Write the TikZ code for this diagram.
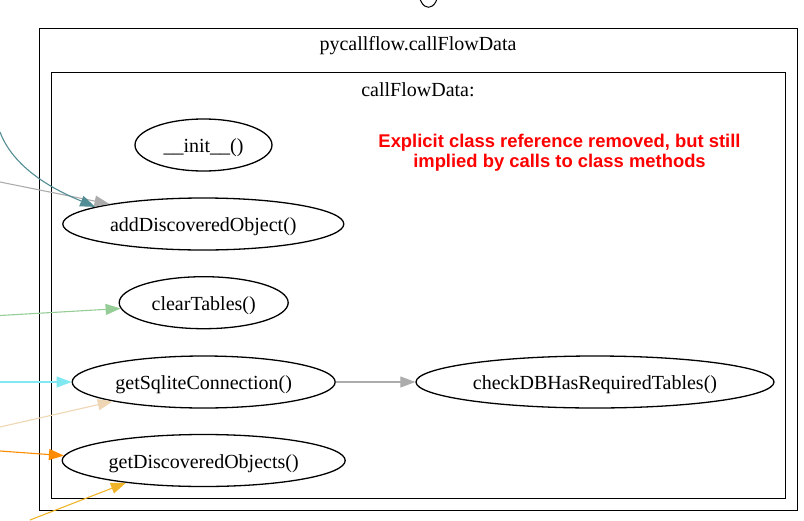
\documentclass[tikz,border=0pt]{standalone}
\usepackage{fontspec}
\setmainfont{Liberation Serif}
\setsansfont{Liberation Sans}
\usetikzlibrary{arrows.meta,shapes.geometric}
\definecolor{tealc}{RGB}{82,140,148}
\definecolor{grayc}{RGB}{172,172,172}
\definecolor{greenc}{RGB}{150,204,150}
\definecolor{cyanc}{RGB}{128,232,240}
\definecolor{tanc}{RGB}{238,214,180}
\definecolor{orangec}{RGB}{255,140,0}
\definecolor{goldc}{RGB}{240,180,40}
\definecolor{redc}{RGB}{255,0,0}
\begin{document}
\begin{tikzpicture}[x=1pt,y=-1pt,
  fn/.style={ellipse, draw, line width=1.3pt, minimum height=52pt, inner sep=0pt, text height=15.4pt, text depth=0pt, font=\fontsize{20}{24}\selectfont},
  cluster/.style={draw, line width=1.3pt, inner sep=0pt, anchor=north west},
  ctitle/.style={font=\fontsize{20}{24}\selectfont, inner sep=0pt},
  conn/.style={line width=1.1pt, -{Triangle[length=15pt,width=11pt]}},
  note/.style={font=\sffamily\bfseries\fontsize{18.4}{20}\selectfont, text=redc, align=center, inner sep=0pt}]
\useasboundingbox (0,0) rectangle (804,520);
\clip (0,0) rectangle (804,520);
% partial node at top
\node[draw, ellipse, line width=1pt, minimum width=20pt, minimum height=34.6pt, inner sep=0pt] (topn) at (428.5,-10) {};
% clusters
\node[cluster, minimum width=758pt, minimum height=482pt] (outer) at (39,28) {};
\node[cluster, minimum width=734pt, minimum height=426pt] (inner) at (51,72) {};
\node[ctitle] (outerT) at (418,46) {pycallflow.callFlowData};
\node[ctitle] (innerT) at (418,90) {callFlowData:};
% functions
\node[fn, minimum width=137pt] (init) at (203.5,145) {\_\_init\_\_()};
\node[fn, minimum width=281pt] (addD) at (203.3,224) {addDiscoveredObject()};
\node[fn, minimum width=169pt] (clearT) at (203.7,302.7) {clearTables()};
\node[fn, minimum width=263pt] (getS) at (203.7,382) {getSqliteConnection()};
\node[fn, minimum width=283pt] (getD) at (203.7,460.5) {getDiscoveredObjects()};
\node[fn, minimum width=358pt] (checkDB) at (595,382) {checkDBHasRequiredTables()};
% note
\node[note] (noteT) at (559.5,152.5) {Explicit class reference removed, but still\\implied by calls to class methods};
% free ends
\coordinate (s1) at (0,132);
\coordinate (s2) at (0,182);
\coordinate (s3) at (0,315.5);
\coordinate (s4) at (0,382);
\coordinate (s5) at (0,427);
\coordinate (s6) at (0,451);
\coordinate (s7) at (30,520);
% connectors
\draw[conn, grayc] (s2) -- (addD.168);
\draw[conn, tealc] (s1) .. controls (15,172) and (62,193) .. (addD.171);
\draw[conn, greenc] (s3) -- (clearT.184);
\draw[conn, cyanc] (s4) -- (getS.180);
\draw[conn, tanc] (s5) -- (getS.192.5);
\draw[conn, orangec] (s6) -- (getD.178.2);
\draw[conn, goldc] (s7) -- (getD.196.8);
\draw[conn, grayc] (getS) -- (checkDB);
\end{tikzpicture}
\end{document}
